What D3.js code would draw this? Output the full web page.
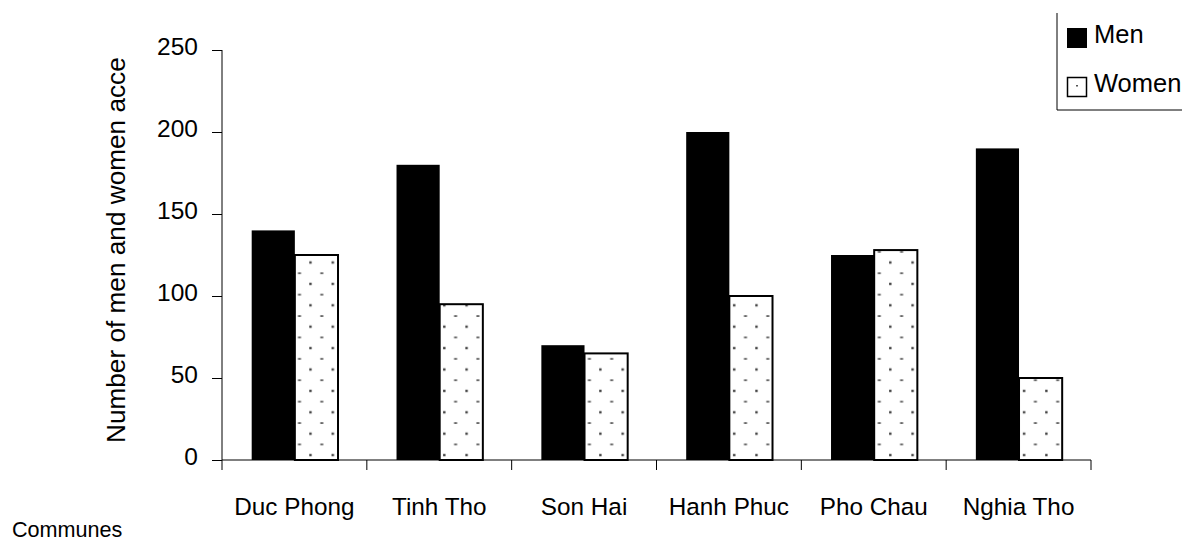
<!DOCTYPE html>
<html>
<head>
<meta charset="utf-8">
<script src="https://cdn.jsdelivr.net/npm/d3@7"></script>
<style>
  html, body { margin: 0; padding: 0; background: #fff; }
  svg { display: block; font-family: "Liberation Sans", Arial, sans-serif; }
</style>
</head>
<body>
<svg id="chart" width="1182" height="541"></svg>
<script>
// ---- data ----
const communes = ["Duc Phong", "Tinh Tho", "Son Hai", "Hanh Phuc", "Pho Chau", "Nghia Tho"];
const men   = [140, 180, 70, 200, 125, 190];
const women = [125, 95, 65, 100, 128, 50];
const seriesNames = ["Men", "Women"];
const yTicks = [0, 50, 100, 150, 200, 250];
const yTitle = "Number of men and women acce";
const xTitle = "Communes";

const svg = d3.select("#chart");

// pattern for women bars
const defs = svg.append("defs");
const pat = defs.append("pattern")
  .attr("id", "dots").attr("patternUnits", "userSpaceOnUse")
  .attr("x", 299.5).attr("y", 262.5).attr("width", 22.3).attr("height", 21.4);
pat.append("rect").attr("width", 22.3).attr("height", 21.4).attr("fill", "#fff");
pat.append("rect").attr("x", 9.8).attr("y", -1.2).attr("width", 2.4).attr("height", 2.4).attr("fill", "#444");
pat.append("rect").attr("x", 9.8).attr("y", 20.2).attr("width", 2.4).attr("height", 2.4).attr("fill", "#444");
pat.append("rect").attr("x", -1.5).attr("y", 10).attr("width", 3).attr("height", 1.5).attr("fill", "#444");
pat.append("rect").attr("x", 20.8).attr("y", 10).attr("width", 3).attr("height", 1.5).attr("fill", "#444");

const x0 = d3.scaleBand().domain(communes).range([222, 1091]).paddingInner(0).paddingOuter(0);
const y = d3.scaleLinear().domain([0, 250]).range([460, 50]);
const bw = x0.bandwidth();
const barW = bw * 0.298;
const off = bw * 0.205;

const data = communes.map((c, i) => ({ c, men: men[i], women: women[i] }));

// men bars
svg.append("g").selectAll("rect").data(data).join("rect")
  .attr("x", d => x0(d.c) + off)
  .attr("y", d => y(d.men))
  .attr("width", barW)
  .attr("height", d => y(0) - y(d.men))
  .attr("fill", "#000");

// women bars
svg.append("g").selectAll("rect").data(data).join("rect")
  .attr("x", d => x0(d.c) + off + barW)
  .attr("y", d => y(d.women))
  .attr("width", barW)
  .attr("height", d => y(0) - y(d.women))
  .attr("fill", "url(#dots)")
  .attr("stroke", "#000").attr("stroke-width", 2);

// y axis
const yAxis = d3.axisLeft(y).tickValues(yTicks).tickSize(10).tickPadding(14).tickFormat(d3.format("d"));
const gy = svg.append("g").attr("transform", "translate(222,0)").call(yAxis);
gy.select(".domain").attr("d", "M0,50V460").attr("stroke", "#000");
gy.selectAll(".tick line").attr("stroke", "#000");
gy.selectAll(".tick text").attr("font-size", 24.5).attr("fill", "#000").attr("dy", "0.2em")
  .attr("font-family", "'Liberation Sans', Arial, sans-serif");

// x axis
const gx = svg.append("g").attr("transform", "translate(0,460)");
gx.append("line").attr("x1", 222).attr("x2", 1091).attr("stroke", "#000");
const bounds = communes.map(c => x0(c)).concat([x0(communes[communes.length - 1]) + bw]);
gx.selectAll("line.tk").data(bounds).join("line").attr("class", "tk")
  .attr("x1", d => d).attr("x2", d => d).attr("y1", 0).attr("y2", 10).attr("stroke", "#000");
gx.selectAll("text").data(communes).join("text")
  .attr("x", d => x0(d) + bw / 2).attr("y", 55)
  .attr("text-anchor", "middle").attr("font-size", 24.3).attr("fill", "#000")
  .text(d => d);

// y title (clipped at top like the reference)
defs.append("clipPath").attr("id", "yclip").append("rect")
  .attr("x", 0).attr("y", 58).attr("width", 200).attr("height", 483);
svg.append("g").attr("clip-path", "url(#yclip)").append("text")
  .attr("transform", "translate(125,443) rotate(-90)")
  .attr("font-size", 26.2).attr("fill", "#000")
  .text(yTitle);

// x title
svg.append("text").attr("x", 12).attr("y", 537).attr("font-size", 21.6).attr("fill", "#000").text(xTitle);

// legend
const lg = svg.append("g");
lg.append("line").attr("x1", 1057).attr("x2", 1057).attr("y1", 13).attr("y2", 110).attr("stroke", "#000");
lg.append("line").attr("x1", 1057).attr("x2", 1182).attr("y1", 110).attr("y2", 110).attr("stroke", "#000");
const items = lg.selectAll("g.item").data(seriesNames).join("g").attr("class", "item")
  .attr("transform", (d, i) => `translate(0,${i * 49})`);
items.append("rect").attr("x", (d, i) => i ? 1067.5 : 1067).attr("y", (d, i) => i ? 77.5 - 49 : 28)
  .attr("width", (d, i) => i ? 19 : 20).attr("height", (d, i) => i ? 19 : 20)
  .attr("fill", (d, i) => i ? "#fff" : "#000").attr("stroke", "#000").attr("stroke-width", (d, i) => i ? 1.5 : 0);
items.filter((d, i) => i === 1).append("rect").attr("x", 1076).attr("y", 36).attr("width", 2).attr("height", 1.5).attr("fill", "#555");
items.append("text").attr("x", 1094).attr("y", 43).attr("font-size", 25.5).attr("fill", "#000").text(d => d);
</script>
</body>
</html>
